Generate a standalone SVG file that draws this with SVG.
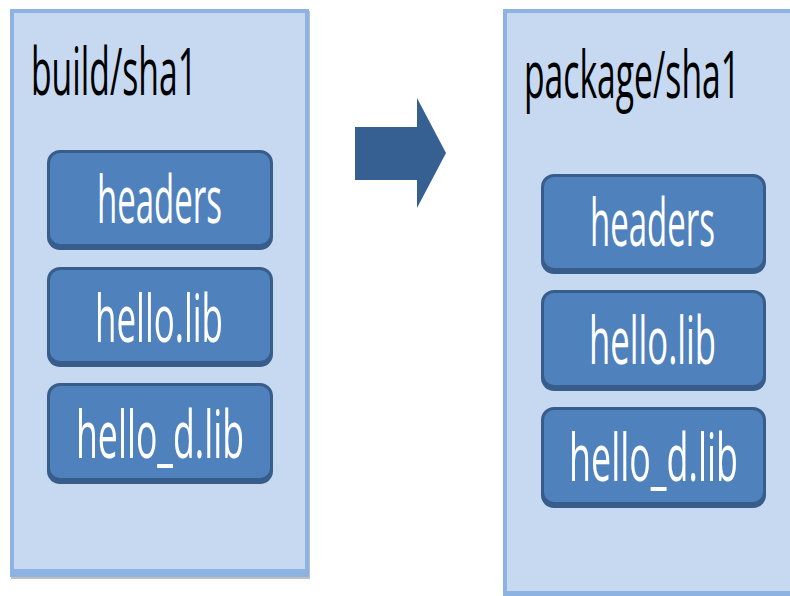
<svg xmlns="http://www.w3.org/2000/svg" width="790" height="596" viewBox="0 0 790 596">
<style>
.pout{fill:#8db3e2}
.pin{fill:#c6d9f1}
.bout{fill:#385d8a}
.bin{fill:#4f81bd}
.t{font-family:"Open Sans","Noto Sans","Liberation Sans",sans-serif;font-size:66px}
.lbl{fill:#ffffff}
.ttl{fill:#000000}
</style>
<rect width="790" height="596" fill="#ffffff"/>
<g id="panel-build">
<rect x="11" y="11" width="299" height="568" fill="#bfbfbf"/>
<rect class="pout" x="10" y="9" width="299" height="568"/>
<rect class="pin" x="14" y="13" width="291" height="556"/>
<text class="t ttl" transform="translate(31,95) scale(0.51,1)" x="0" y="0" textLength="325.5" lengthAdjust="spacingAndGlyphs">build/sha1</text>
</g>
<g id="panel-package">
<rect class="pout" x="503" y="9" width="300" height="587"/>
<rect class="pin" x="507" y="13" width="300" height="578"/>
<text class="t ttl" transform="translate(524,98) scale(0.51,1)" x="0" y="0" textLength="423.5" lengthAdjust="spacingAndGlyphs">package/sha1</text>
</g>
<g id="build-headers">
<rect class="bout" x="47" y="150" width="226" height="100" rx="13"/>
<rect class="bin" x="50" y="153" width="220" height="91" rx="10"/>
<text class="t lbl" transform="translate(97,223) scale(0.51,1)" x="0" y="0" textLength="245" lengthAdjust="spacingAndGlyphs">headers</text>
</g>
<g id="build-hello-lib">
<rect class="bout" x="47" y="267" width="226" height="100" rx="13"/>
<rect class="bin" x="50" y="270" width="220" height="91" rx="10"/>
<text class="t lbl" transform="translate(95,342) scale(0.51,1)" x="0" y="0" textLength="251" lengthAdjust="spacingAndGlyphs">hello.lib</text>
</g>
<g id="build-hello-d-lib">
<rect class="bout" x="47" y="383" width="226" height="101" rx="13"/>
<rect class="bin" x="50" y="386" width="220" height="92" rx="10"/>
<text class="t lbl" transform="translate(76,458) scale(0.51,1)" x="0" y="0" textLength="329.4" lengthAdjust="spacingAndGlyphs">hello_d.lib</text>
</g>
<g id="package-headers">
<rect class="bout" x="541" y="174" width="225" height="100" rx="13"/>
<rect class="bin" x="544" y="177" width="219" height="91" rx="10"/>
<text class="t lbl" transform="translate(590,246) scale(0.51,1)" x="0" y="0" textLength="245" lengthAdjust="spacingAndGlyphs">headers</text>
</g>
<g id="package-hello-lib">
<rect class="bout" x="541" y="290" width="225" height="101" rx="13"/>
<rect class="bin" x="544" y="293" width="219" height="92" rx="10"/>
<text class="t lbl" transform="translate(589,364) scale(0.51,1)" x="0" y="0" textLength="249" lengthAdjust="spacingAndGlyphs">hello.lib</text>
</g>
<g id="package-hello-d-lib">
<rect class="bout" x="541" y="407" width="225" height="101" rx="13"/>
<rect class="bin" x="544" y="410" width="219" height="92" rx="10"/>
<text class="t lbl" transform="translate(569,481) scale(0.51,1)" x="0" y="0" textLength="331.4" lengthAdjust="spacingAndGlyphs">hello_d.lib</text>
</g>
<g id="connectors">
<polygon points="355,127 417,127 417,98 446,153 417,208 417,180 355,180" fill="#366092"/>
</g>
</svg>
